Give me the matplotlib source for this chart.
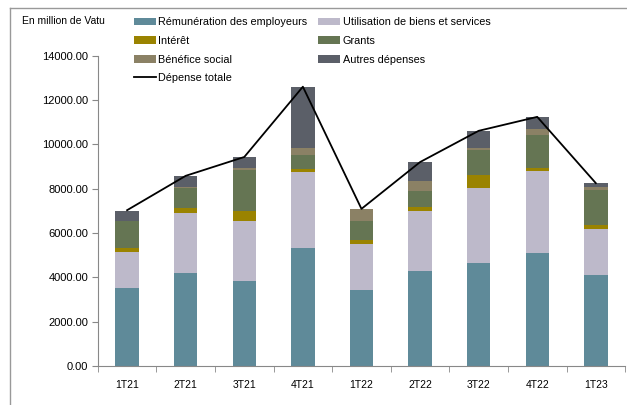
import matplotlib
matplotlib.use("Agg")
import matplotlib.pyplot as plt
from matplotlib.lines import Line2D
import numpy as np

plt.rcParams['font.family'] = ['Liberation Sans', 'DejaVu Sans']

# Quarters and expenditure components (million Vatu)
quarters = ["1T21", "2T21", "3T21", "4T21", "1T22", "2T22", "3T22", "4T22", "1T23"]
remuneration = [3500, 4195, 3850, 5335, 3430, 4285, 4660, 5080, 4120]
utilisation = [1650, 2720, 2690, 3400, 2070, 2720, 3380, 3730, 2070]
interet = [180, 225, 465, 150, 170, 150, 560, 135, 170]
grants = [1200, 875, 1820, 615, 870, 750, 1140, 1475, 1560]
benefice = [0, 70, 120, 345, 540, 450, 80, 270, 135]
autres = [480, 495, 480, 2755, 0, 840, 790, 555, 195]
depense_totale = [7030, 8580, 9430, 12600, 7090, 9200, 10610, 11240, 8250]

series = [
    ("Rémunération des employeurs", remuneration, "#5f8a99"),
    ("Utilisation de biens et services", utilisation, "#bdb9ca"),
    ("Intérêt", interet, "#9a8300"),
    ("Grants", grants, "#657553"),
    ("Bénéfice social", benefice, "#8b8165"),
    ("Autres dépenses", autres, "#5b5f68"),
]

fig = plt.figure(figsize=(6.27, 4.05), dpi=100)
ax = fig.add_axes([0.156, 0.0963, 0.841, 0.7662])

x = np.arange(len(quarters))
bottom = np.zeros(len(quarters))
handles = {}
for name, vals, col in series:
    b = ax.bar(x, vals, width=0.4, bottom=bottom, color=col, edgecolor="none", label=name)
    handles[name] = b
    bottom += np.array(vals)

ln, = ax.plot(x, depense_totale, color="black", lw=1.3, label="Dépense totale")
handles["Dépense totale"] = ln

ax.set_xlim(-0.5, len(quarters) - 0.5)
ax.set_ylim(0, 14000)
ax.set_yticks(np.arange(0, 14001, 2000))
ax.set_yticklabels([f"{v:.2f}" for v in np.arange(0, 14001, 2000)], fontsize=8)
ax.set_xticks(x)
ax.set_xticklabels(quarters, fontsize=7.5)
ax.set_xticks(np.arange(-0.5, len(quarters), 1), minor=True)
ax.tick_params(axis="x", which="major", length=0, pad=10)
ax.tick_params(axis="x", which="minor", length=4, color="#888888")
ax.tick_params(axis="y", length=4, color="#888888", pad=3)

for s in ["top", "right"]:
    ax.spines[s].set_visible(False)
ax.spines["left"].set_color("#888888")
ax.spines["bottom"].set_color("#888888")

order = ["Rémunération des employeurs", "Intérêt", "Bénéfice social", "Dépense totale",
         "Utilisation de biens et services", "Grants", "Autres dépenses"]
fig.legend([handles[k] for k in order], order, ncol=2, loc="upper left",
           bbox_to_anchor=(0.207, 0.968), frameon=False, fontsize=7.8,
           handlelength=2.0, handleheight=0.75, handletextpad=0.25,
           columnspacing=1.0, labelspacing=0.8, borderaxespad=0)

fig.text(0.035, 0.948, "En million de Vatu", fontsize=7.5, va="center", ha="left")

# outer frame of the original picture
fig.add_artist(Line2D([0.016, 0.016], [0.0, 0.98], color="#999999", lw=1))
fig.add_artist(Line2D([0.016, 1.0], [0.98, 0.98], color="#999999", lw=1))

fig.savefig("out.png", dpi=100)
